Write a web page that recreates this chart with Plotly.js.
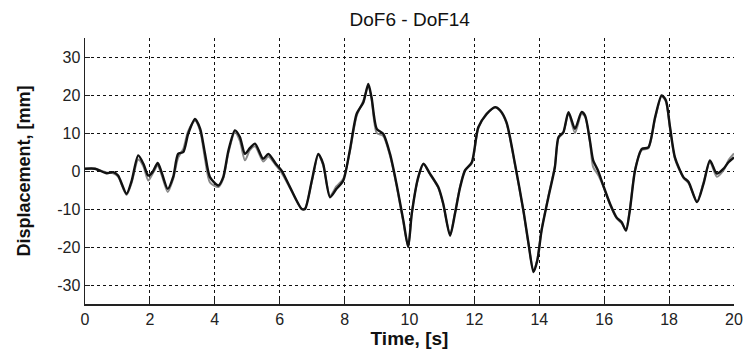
<!DOCTYPE html>
<html>
<head>
<meta charset="utf-8">
<script src="https://cdn.plot.ly/plotly-3.0.1.min.js"></script>
<style>html,body{margin:0;padding:0;background:#fff;}#chart{width:745px;height:356px;}</style>
</head>
<body>
<div id="chart"></div>
<script>
// Time [s]
const timeA = [0,0.31,0.67,0.87,1.02,1.28,1.44,1.64,1.8,1.95,2.08,2.24,2.36,2.55,2.72,2.87,3.03,3.18,3.39,3.55,3.7,3.85,4.11,4.26,4.42,4.62,4.77,4.93,5.08,5.24,5.49,5.65,5.88,6.06,6.32,6.68,6.78,6.99,7.19,7.34,7.55,7.75,7.96,8.16,8.37,8.58,8.73,8.83,8.99,9.19,9.4,9.6,9.81,9.96,10.07,10.27,10.43,10.63,10.89,11.04,11.25,11.4,11.56,11.71,11.92,12.12,12.38,12.64,12.79,12.99,13.25,13.51,13.67,13.82,13.94,14.07,14.28,14.48,14.59,14.74,14.9,15.1,15.3,15.41,15.56,15.66,15.81,15.97,16.18,16.38,16.54,16.67,16.79,16.95,17.16,17.36,17.57,17.77,17.9,18.03,18.18,18.44,18.6,18.86,19.06,19.26,19.47,19.68,19.83,20];
// DoF6 displacement [mm] (black)
const dof6 = [0.6,0.6,-0.6,-0.3,-1.2,-6.0,-2.5,4.1,1.9,-1.2,-0.3,2.1,-0.3,-4.7,-1.5,4.5,5.0,9.8,13.7,11.1,4.5,-1.6,-3.8,-1.6,5.4,10.7,9.0,4.5,6.0,7.2,3.2,4.5,1.9,0.1,-4.3,-10,-10,-2.5,4.5,1.9,-6.9,-4.7,-2.5,5.4,15,18.1,22.9,19.4,11.1,9.8,4.5,-3.4,-13,-20,-11.3,-1.6,1.9,-0.7,-4.3,-8.6,-17,-11.3,-4.3,0.1,2.3,11.5,15,16.8,16.0,12.8,1.9,-10.4,-19.2,-26.6,-23.5,-15.7,-6.9,1.0,8.9,10.2,15.5,11.1,15.5,14.6,8,2.8,0.1,-3.8,-8.6,-12.2,-13.5,-15.7,-10.4,0.1,5.8,6.2,14.2,19.9,18.6,11.5,3.6,-1.6,-2.9,-8.2,-3.4,2.8,-0.7,0.6,2.3,3.6];
// DoF14 displacement [mm] (grey)
const dof14 = [0.6,0.6,-0.4,-0.6,-1.5,-6.3,-3.0,3.0,1.2,-2.5,-0.8,1.4,-1.0,-5.5,-2.0,3.5,5.8,10.5,13.2,10.5,3.0,-3.0,-4.2,-2.0,4.8,10.2,8.0,2.8,5.5,6.5,2.5,3.8,1.5,-0.5,-4.5,-10,-9.8,-2.8,4.2,1.5,-6.5,-4.0,-2.0,5.0,14.5,18.5,22.5,19.0,10.0,9.2,4.0,-3.8,-13.5,-20,-11.0,-1.8,1.8,-0.9,-4.5,-8.8,-16.8,-11.0,-4.0,0.3,2.0,11.2,15.2,16.7,15.8,12.5,1.6,-10.6,-19.4,-26.3,-23.2,-15.4,-6.6,1.3,8.6,10.0,15.2,10.0,15.0,14.3,7.6,1.0,-1.0,-4.0,-8.9,-12.4,-13.8,-15.4,-10.0,0.4,5.5,6.0,13.8,19.6,18.3,11.0,3.2,-1.8,-3.2,-8.0,-3.0,2.4,-1.5,0.2,2.8,4.6];

const xTicks = [0,2,4,6,8,10,12,14,16,18,20];
const yTicks = [-30,-20,-10,0,10,20,30];

const traces = [
  {x: timeA, y: dof14, type: 'scatter', mode: 'lines', name: 'DoF14',
   line: {color: '#8a8a8a', width: 2, shape: 'spline', smoothing: 0.7}},
  {x: timeA, y: dof6, type: 'scatter', mode: 'lines', name: 'DoF6',
   line: {color: '#111111', width: 2.4, shape: 'spline', smoothing: 0.7}}
];

const fontFam = 'Liberation Sans, Arial, sans-serif';
const layout = {
  width: 745, height: 356,
  margin: {l: 85, r: 11, t: 38, b: 52},
  paper_bgcolor: '#ffffff', plot_bgcolor: '#ffffff',
  showlegend: false,
  title: {text: 'DoF6 - DoF14', font: {family: fontFam, size: 19, color: '#111'},
          x: 0.55, xanchor: 'center', y: 0.945, yanchor: 'middle'},
  xaxis: {
    range: [0, 20], tickvals: xTicks, ticktext: xTicks.map(String),
    showgrid: true, gridcolor: '#111', griddash: '3px,3px', gridwidth: 1,
    zeroline: false, showline: true, linecolor: '#222', linewidth: 1.5,
    ticks: 'inside', ticklen: 5, tickcolor: '#222',
    tickfont: {family: fontFam, size: 16, color: '#222'},
    title: {text: '<b>Time, [s]</b>', font: {family: fontFam, size: 19, color: '#111'}, standoff: 2}
  },
  yaxis: {
    range: [-35, 35], tickvals: yTicks, ticktext: yTicks.map(String),
    showgrid: true, gridcolor: '#111', griddash: '3px,3px', gridwidth: 1,
    zeroline: false, showline: true, linecolor: '#222', linewidth: 1.5,
    ticks: 'inside', ticklen: 5, tickcolor: '#222',
    tickfont: {family: fontFam, size: 16, color: '#222'},
    title: {text: '<b>Displacement, [mm]</b>', font: {family: fontFam, size: 18, color: '#111'}, standoff: 22}
  }
};

Plotly.newPlot('chart', traces, layout, {displayModeBar: false, staticPlot: true});
</script>
</body>
</html>
